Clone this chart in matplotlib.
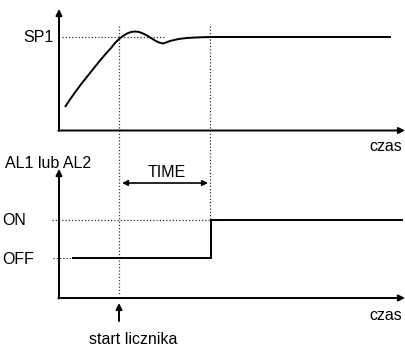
import matplotlib
matplotlib.use("Agg")
import matplotlib.pyplot as plt

plt.rcParams['font.family'] = ['Liberation Sans', 'DejaVu Sans']

# Process value curve (top panel), in picture units
curve_x = [65, 70, 76, 82, 88, 94, 100, 106, 111, 115, 119, 123, 127, 131, 135, 139,
           143, 147, 151, 155, 159, 163, 166, 170, 175, 180, 187, 195, 203, 210, 391]
curve_y = [107, 99.5, 91, 83, 75.5, 68, 60.5, 53.5, 48, 43, 39, 36, 33.5, 32, 31.5, 32,
           33.5, 35.5, 38, 40.5, 42.5, 43.5, 42.5, 41, 39.8, 38.8, 38, 37.5, 37.2, 37, 37]

# Alarm output (bottom panel)
alarm_x = [73, 211, 211, 402]
alarm_y = [258, 258, 220, 220]

sp1_level = 37
on_level = 220
off_level = 258
t_start = 119
t_end = 210

labels_top = {"sp": "SP1", "time": "czas"}
labels_bottom = {"y": "AL1 lub AL2", "on": "ON", "off": "OFF", "time": "czas",
                 "span": "TIME", "start": "start licznika"}

fig = plt.figure(figsize=(4.05, 3.47), dpi=100)
ax = fig.add_axes([0, 0, 1, 1])
ax.set_xlim(0, 405)
ax.set_ylim(347, 0)
ax.axis('off')

arrow_kw = dict(arrowstyle='-|>', lw=1.4, color='black', mutation_scale=9,
                shrinkA=0, shrinkB=0)
dot = dict(color='#333333', lw=0.9, linestyle=(0, (1, 1.6)))

# Top axes
ax.annotate('', xy=(59, 9), xytext=(59, 131), arrowprops=arrow_kw)
ax.annotate('', xy=(405, 130.5), xytext=(58.3, 130.5), arrowprops=arrow_kw)
# Bottom axes
ax.annotate('', xy=(59, 169), xytext=(59, 298.5), arrowprops=arrow_kw)
ax.annotate('', xy=(405, 298), xytext=(58.3, 298), arrowprops=arrow_kw)

# Dotted guides
ax.plot([62, 166], [sp1_level, sp1_level], **dot)
ax.plot([t_start, t_start], [26, 294], **dot)
ax.plot([t_end, t_end], [26, on_level], **dot)
ax.plot([52, 225], [on_level, on_level], **dot)
ax.plot([53, 73], [off_level, off_level], **dot)

# Curve
ax.plot(curve_x, curve_y, color='black', lw=1.4, solid_capstyle='butt')
# Alarm
ax.plot(alarm_x, alarm_y, color='black', lw=1.4, solid_joinstyle='miter')

# TIME double arrow
ax.annotate('', xy=(122, 183), xytext=(208, 183),
            arrowprops=dict(arrowstyle='<|-|>', lw=1.2, color='black',
                            mutation_scale=8, shrinkA=0, shrinkB=0))
# start arrow
ax.annotate('', xy=(t_start, 303), xytext=(t_start, 321), arrowprops=arrow_kw)

fs = 11.5
ax.text(54, sp1_level, labels_top["sp"], ha='right', va='center', fontsize=fs)
ax.text(402, 146, labels_top["time"], ha='right', va='center', fontsize=fs)
ax.text(5, 163, labels_bottom["y"], ha='left', va='center', fontsize=fs)
ax.text(167, 172, labels_bottom["span"], ha='center', va='center', fontsize=fs)
ax.text(2, on_level, labels_bottom["on"], ha='left', va='center', fontsize=fs)
ax.text(2, off_level + 1, labels_bottom["off"], ha='left', va='center', fontsize=fs)
ax.text(402, 316, labels_bottom["time"], ha='right', va='center', fontsize=fs)
ax.text(133, 339, labels_bottom["start"], ha='center', va='center', fontsize=fs)

fig.savefig("out.png", dpi=100)
